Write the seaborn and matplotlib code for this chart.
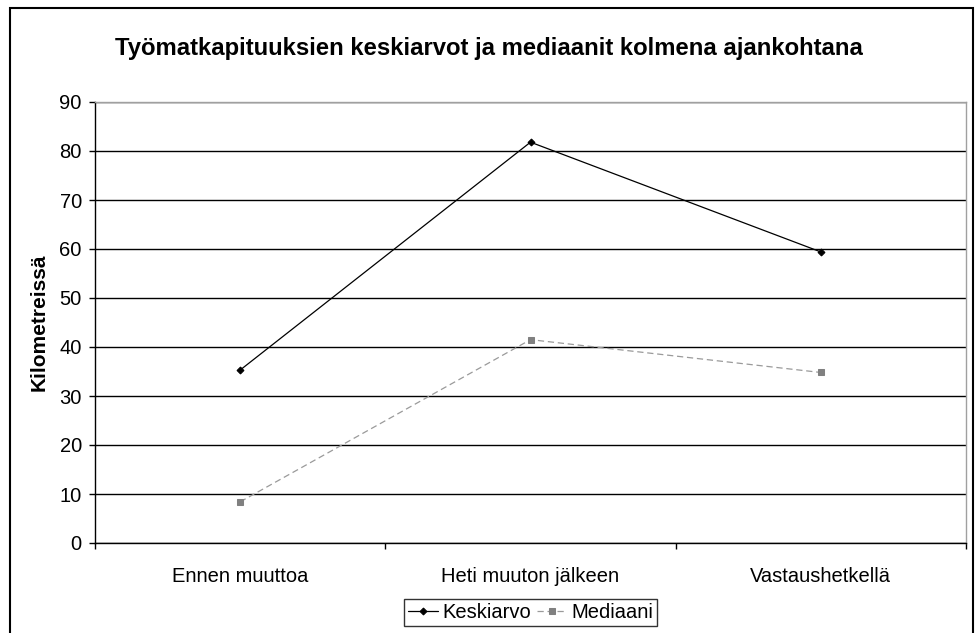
import matplotlib
matplotlib.use("Agg")
import matplotlib.pyplot as plt
import seaborn as sns
import pandas as pd
from matplotlib.patches import Rectangle
from matplotlib.ticker import FixedLocator, MultipleLocator

categories = ["Ennen muuttoa", "Heti muuton jälkeen", "Vastaushetkellä"]
keskiarvo = [35.3, 81.8, 59.4]
mediaani = [8.4, 41.5, 34.8]
series_names = ["Keskiarvo", "Mediaani"]

df = pd.DataFrame({
    "pos": list(range(len(categories))) * 2,
    "value": keskiarvo + mediaani,
    "series": [series_names[0]] * len(categories) + [series_names[1]] * len(categories),
})

sns.set_style("white")
plt.rcParams["font.family"] = ["Liberation Sans", "DejaVu Sans"]
plt.rcParams["text.color"] = "black"
plt.rcParams["axes.labelcolor"] = "black"
plt.rcParams["xtick.color"] = "black"
plt.rcParams["ytick.color"] = "black"

fig = plt.figure(figsize=(9.77, 6.33), dpi=100)
ax = fig.add_axes([95 / 977, 1 - 543 / 633, (966 - 95) / 977, (543 - 102) / 633])

sns.lineplot(data=df[df.series == "Keskiarvo"], x="pos", y="value", ax=ax,
             color="black", linewidth=0.9, marker="D", markersize=3.5,
             markeredgecolor="black", label="Keskiarvo")
sns.lineplot(data=df[df.series == "Mediaani"], x="pos", y="value", ax=ax,
             color="#9a9a9a", linewidth=0.9, linestyle=(0, (5, 3)), marker="s",
             markersize=5, markerfacecolor="#808080", markeredgecolor="#808080",
             label="Mediaani")

ax.set_xlim(-0.5, len(categories) - 0.5)
ax.set_ylim(0, 90)
ax.yaxis.set_major_locator(MultipleLocator(10))
ax.grid(axis="y", color="black", linewidth=1.0)
ax.set_axisbelow(True)

ax.set_xticks(range(len(categories)))
ax.set_xticklabels(categories, fontsize=14.5)
ax.xaxis.set_minor_locator(FixedLocator([-0.5, 0.5, 1.5, 2.5]))
ax.tick_params(axis="x", which="major", length=0, pad=17)
ax.tick_params(axis="x", which="minor", length=4.5, width=1, color="black", direction="out")
ax.tick_params(axis="y", length=4.5, width=1, color="black", direction="out", labelsize=14.5, pad=5)
ax.tick_params(bottom=True, left=True, which="both")

for s in ["left", "bottom"]:
    ax.spines[s].set_color("black")
    ax.spines[s].set_linewidth(1.0)
for s in ["top", "right"]:
    ax.spines[s].set_color("#a0a0a0")
    ax.spines[s].set_linewidth(1.0)

ax.set_xlabel("")
ax.set_ylabel("Kilometreissä", fontsize=15, fontweight="bold", labelpad=8, color="black")

fig.text(0.5, 1 - 48 / 633, "Työmatkapituuksien keskiarvot ja mediaanit kolmena ajankohtana",
         ha="center", va="center", fontsize=17.2, fontweight="bold", color="black")

leg = ax.legend(loc="lower center", bbox_to_anchor=(0.5, -(626 - 543) / 441), ncol=2, fontsize=14.5,
                frameon=True, fancybox=False, edgecolor="black", handlelength=1.5,
                handletextpad=0.2, columnspacing=0.3, borderpad=0.2, borderaxespad=0)
leg.get_frame().set_linewidth(1.0)
for t in leg.get_texts():
    t.set_color("black")

fig.patches.append(Rectangle((10 / 977, -0.01), (973 - 10) / 977, 1 - 8 / 633 + 0.01,
                             transform=fig.transFigure, fill=False, edgecolor="black",
                             linewidth=1.5, figure=fig))

fig.savefig("out.png", dpi=100)
